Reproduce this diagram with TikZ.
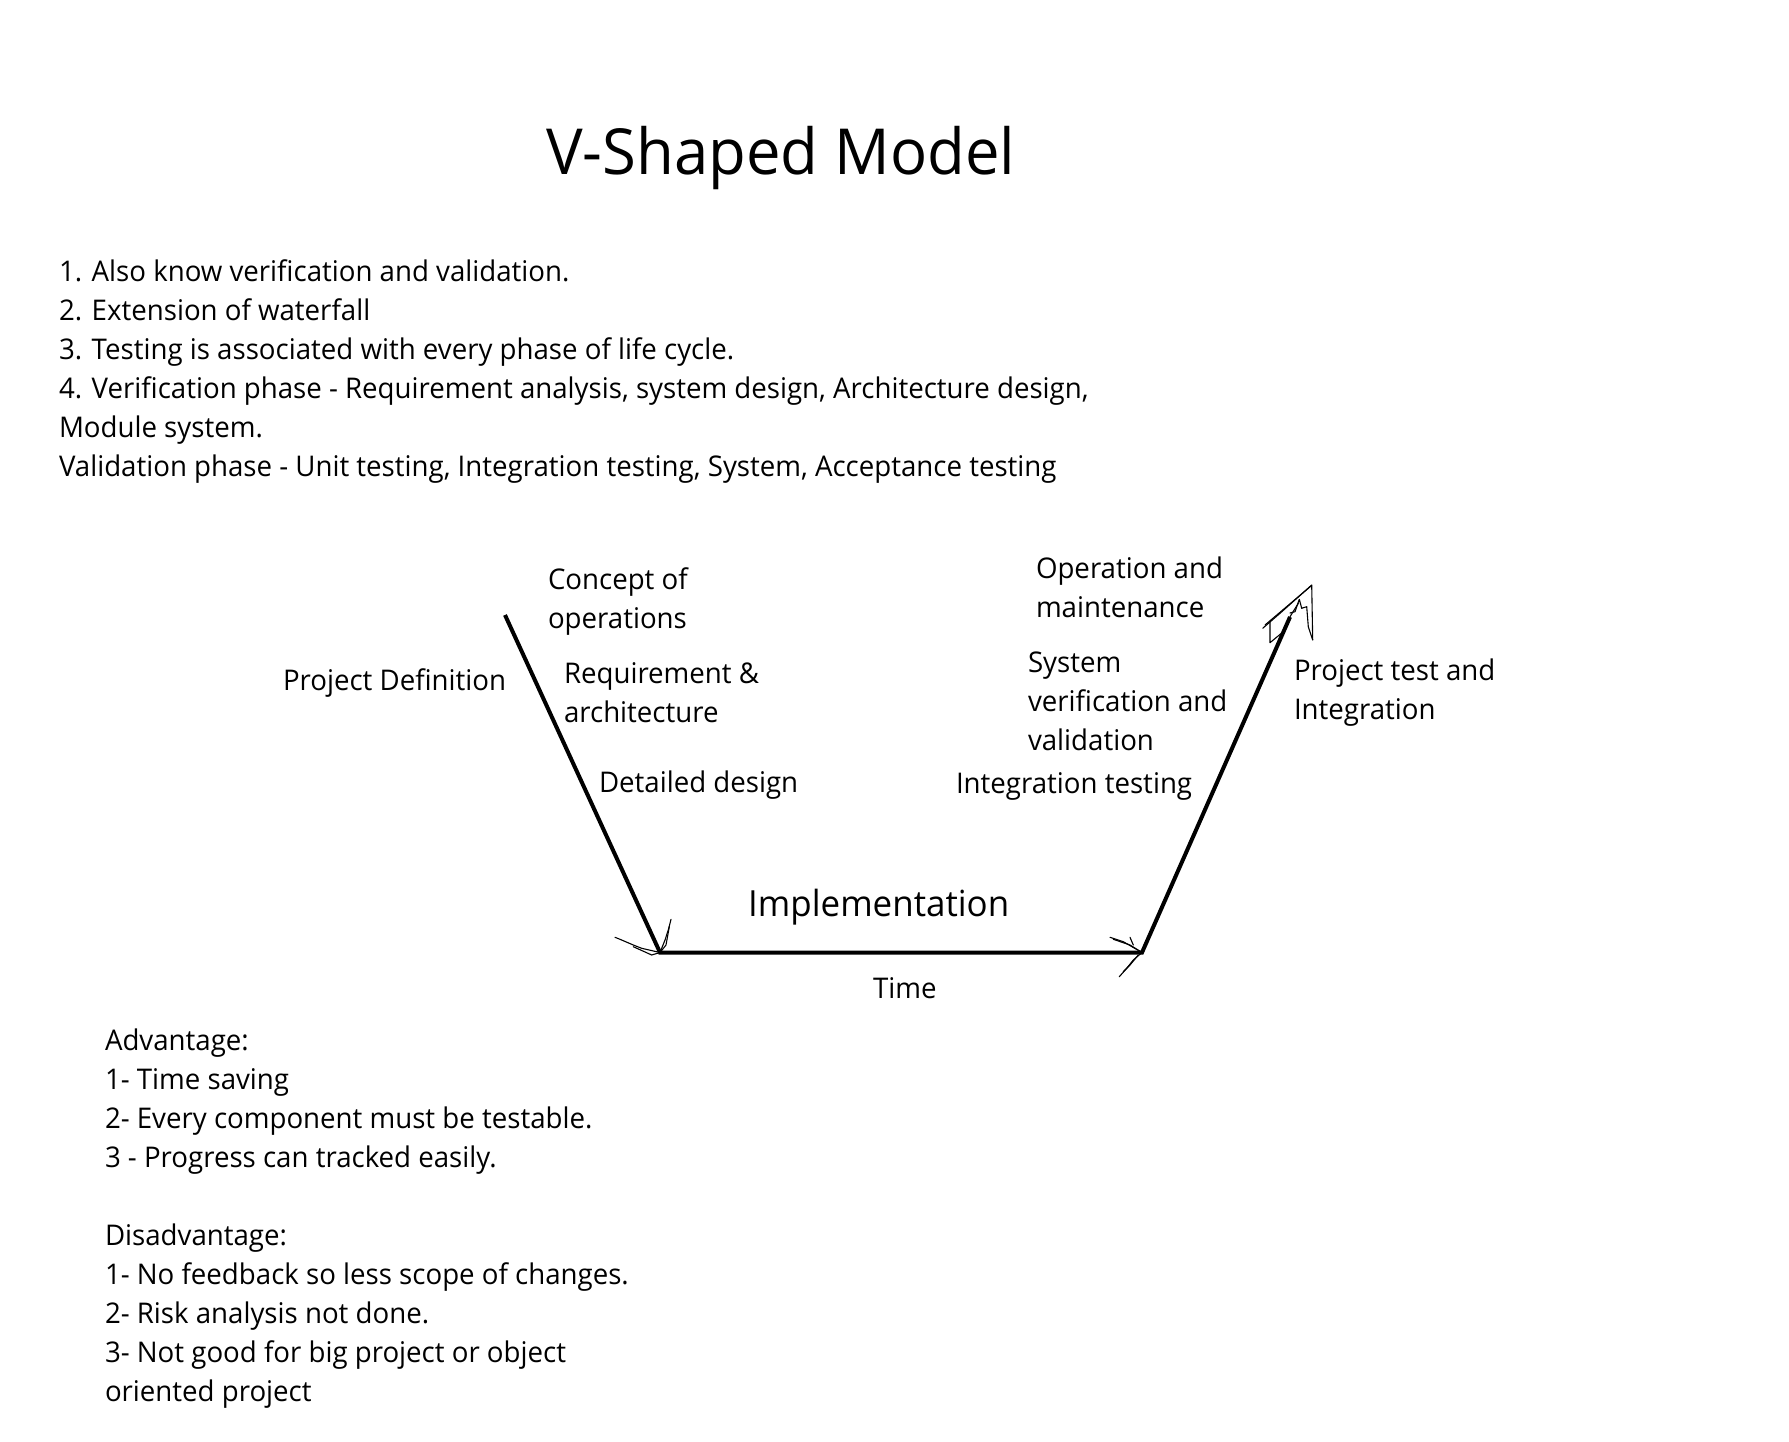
\documentclass[tikz,border=0pt]{standalone}
\usepackage{fontspec}
\setmainfont[FakeStretch=0.97]{Open Sans}
\begin{document}
\begin{tikzpicture}[x=1pt,y=-1pt,
  txt/.style={anchor=base west, inner sep=0pt, outer sep=0pt, align=left, font=\fontsize{28.5}{39}\selectfont},
  vline/.style={line width=4pt, line join=miter, line cap=butt},
  sketch/.style={line width=1.1pt, line join=round, line cap=round}]
\useasboundingbox[fill=white] (0,0) rectangle (1789,1442);
% title
\node[anchor=base west, inner sep=0pt, font=\fontsize{63.5}{76}\selectfont] (title) at (546,174.5) {V-Shaped Model};
% intro text (anchor = baseline of last line)
\node[txt] (intro) at (59,476.5) {1. Also know verification and validation.\\
2. Extension of waterfall\\
3. Testing is associated with every phase of life cycle.\\
4. Verification phase - Requirement analysis, system design, Architecture design,\\
Module system.\\
Validation phase - Unit testing, Integration testing, System, Acceptance testing};
% V shape
\coordinate (A) at (505,615);
\coordinate (B) at (660,952.5);
\coordinate (C) at (1142,952.5);
\coordinate (D) at (1290,617);
\draw[vline] (A) -- (B) -- (C) -- (D);
% sketchy arrowheads
\draw[sketch] (615,937.3) -- (620,939.3) -- (633.3,945) -- (641.7,948.3) -- (B);
\draw[sketch] (633.3,946.7) -- (651.7,955) -- (B);
\draw[sketch] (671,919.3) -- (668.3,930) -- (665,940) -- (B);
\draw[sketch] (669.3,926.7) -- (666,945) -- (B);
\draw[sketch] (1110,937.3) -- (1123.3,941.7) -- (C);
\draw[sketch] (1113.3,939.3) -- (1130,945) -- (C);
\draw[sketch] (1130,937.3) -- (1133.3,945);
\draw[sketch] (C) -- (1133.3,960) -- (1126.7,968.3) -- (1119.3,976.7);
\draw[sketch] (1138.3,955) -- (1130,965) -- (1123.3,971.7);
\draw[sketch] (1262.7,628.3) -- (1280,613.3) -- (1311.7,585) -- (1312.7,640) -- (1308.3,626.7) -- (1306.7,606.7) -- (1301.7,608.3) -- (1299.3,599.3) -- (1295,611.7) -- (1290,613);
\draw[sketch] (1265,625) -- (1311,586);
\draw[sketch] (1270,621.7) -- (1270,642.7) -- (1283.3,631.7) -- (1290,616.7) -- (1298.3,603.3);
% V labels (anchor = baseline of last line)
\node[txt] (concept) at (548,628.5) {Concept of\\operations};
\node[txt] (projdef) at (283,690.5) {Project Definition};
\node[txt] (req) at (564,722.5) {Requirement \&\\architecture};
\node[txt] (detail) at (599,792.5) {Detailed design};
\node[anchor=base west, inner sep=0pt, font=\fontsize{36}{44}\selectfont] (impl) at (748,916.7) {Implementation};
\node[txt] (time) at (873,998) {Time};
\node[txt] (oper) at (1036,617.5) {Operation and\\maintenance};
\node[txt] (sysv) at (1028,750.5) {System\\verification and\\validation};
\node[txt] (integ) at (956,793.5) {Integration testing};
\node[txt] (ptest) at (1294,719.5) {Project test and\\Integration};
% advantages
\node[txt] (adv) at (105,1401.5) {Advantage:\\
1- Time saving\\
2- Every component must be testable.\\
3 - Progress can tracked easily.\\[39pt]
Disadvantage:\\
1- No feedback so less scope of changes.\\
2- Risk analysis not done.\\
3- Not good for big project or object\\
oriented project};
\end{tikzpicture}
\end{document}
